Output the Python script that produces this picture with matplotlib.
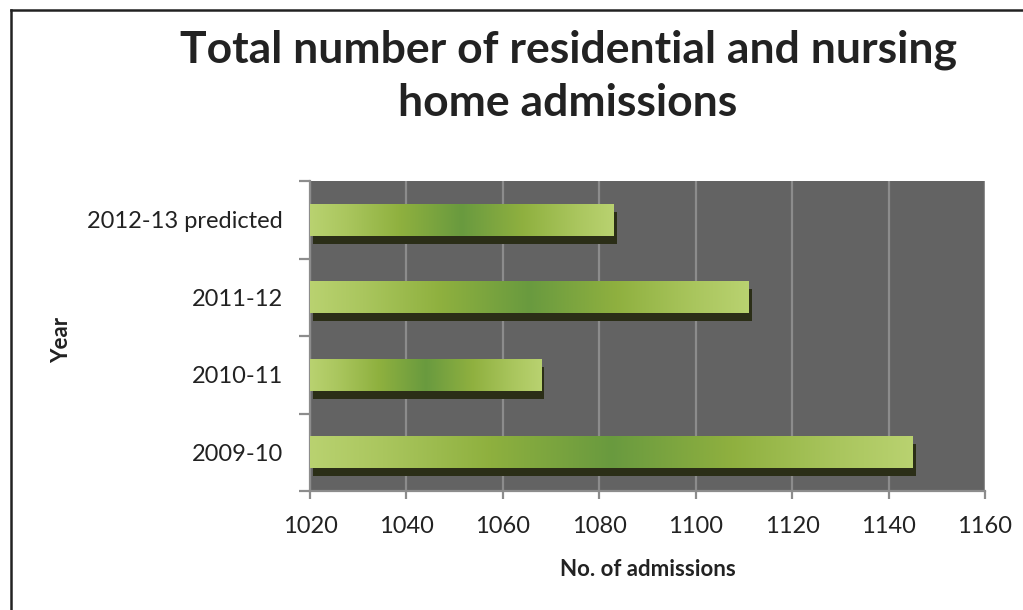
import matplotlib
matplotlib.use("Agg")
import matplotlib.pyplot as plt
import numpy as np
from matplotlib.colors import LinearSegmentedColormap
from matplotlib.patches import Rectangle
from matplotlib.lines import Line2D
import matplotlib.transforms as mtransforms

categories = ["2009-10", "2010-11", "2011-12", "2012-13 predicted"]
admissions = [1145, 1068, 1111, 1083]
x_ticks = [1020, 1040, 1060, 1080, 1100, 1120, 1140, 1160]
title_lines = ["Total number of residential and nursing", "home admissions"]
xlabel = "No. of admissions"
ylabel = "Year"

plt.rcParams['font.family'] = ['Lato', 'DejaVu Sans']

fig = plt.figure(figsize=(10.23, 6.10), dpi=100)
ax = fig.add_axes([310/1023, 1 - 491/610, 675/1023, 310/610])
ax.set_facecolor("#636363")

xmin, xmax = x_ticks[0], x_ticks[-1]

cmap = LinearSegmentedColormap.from_list(
    "grn", [(0.0, "#b9d270"), (0.12, "#aac65e"), (0.3, "#8eb03e"),
            (0.5, "#699a3f"), (0.7, "#8fb03f"), (0.88, "#aac65e"), (1.0, "#b9d270")])
grad = np.linspace(0, 1, 256).reshape(1, -1)

h = 0.41
shadow_tr = mtransforms.offset_copy(ax.transData, fig=fig, x=3, y=-8, units='dots')
for i, v in enumerate(admissions):
    ax.add_patch(Rectangle((xmin, i - h/2), v - xmin, h, facecolor="#2b2e17",
                           edgecolor="none", transform=shadow_tr, zorder=2))
    ax.imshow(grad, cmap=cmap, aspect='auto', extent=(xmin, v, i - h/2, i + h/2),
              zorder=3, interpolation='bilinear')
ax.set_xlim(xmin, xmax)
ax.set_ylim(-0.5, len(categories) - 0.5)

ax.set_xticks(x_ticks)
ax.set_xticklabels([str(t) for t in x_ticks], fontsize=17, color="#222222")
ax.grid(axis='x', color="#8c8c8c", linewidth=1.6, zorder=1)
ax.set_axisbelow(True)

ax.set_yticks(np.arange(-0.5, len(categories), 1.0))
ax.set_yticklabels([])
ax.set_yticks(np.arange(len(categories)), minor=True)
ax.set_yticklabels(categories, minor=True, fontsize=17, color="#222222")
ax.tick_params(axis='y', which='minor', length=0, pad=19.5)
ax.tick_params(axis='y', which='major', length=8, width=1.6, color="#8c8c8c")
ax.tick_params(axis='x', length=6, width=1.6, color="#8c8c8c", pad=12)

for s in ['top', 'right']:
    ax.spines[s].set_visible(False)
for s in ['left', 'bottom']:
    ax.spines[s].set_color("#8c8c8c")
    ax.spines[s].set_linewidth(1.6)

ax.set_xlabel(xlabel, fontsize=16, fontweight='bold', color="#222222")
ax.xaxis.set_label_coords(648/1023, 1 - 570/610, transform=fig.transFigure)
ax.xaxis.label.set_va('center')
ax.set_ylabel(ylabel, fontsize=16, fontweight='bold', color="#222222")
ax.yaxis.set_label_coords(62/1023, 1 - 340/610, transform=fig.transFigure)
ax.yaxis.label.set_va('center')

fig.text(568/1023, 1 - 50/610, title_lines[0], ha='center', va='center', fontsize=32,
         fontweight='bold', color="#222222")
fig.text(568/1023, 1 - 103/610, title_lines[1], ha='center', va='center', fontsize=32,
         fontweight='bold', color="#222222")

fig.add_artist(Line2D([11/1023, 1.0], [1 - 10/610, 1 - 10/610], color="#222222",
                      linewidth=1.8, transform=fig.transFigure))
fig.add_artist(Line2D([11/1023, 11/1023], [0.0, 1 - 10/610], color="#222222",
                      linewidth=1.8, transform=fig.transFigure))

fig.savefig("out.png", dpi=100)
